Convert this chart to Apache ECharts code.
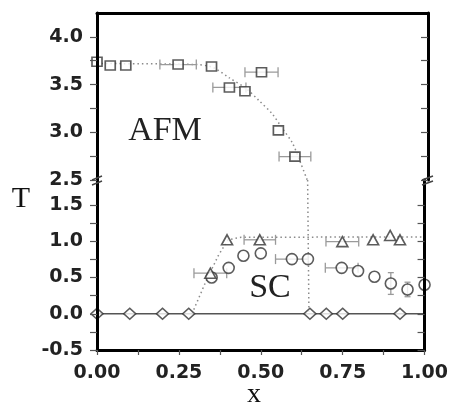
<!DOCTYPE html>
<html><head><meta charset="utf-8">
<script src="https://cdn.jsdelivr.net/npm/echarts@6/dist/echarts.min.js"></script>
<style>html,body{margin:0;padding:0;background:#fff}#c{width:451px;height:410px}</style>
</head><body><div id="c"></div>
<script>
// ---- tick labels ----
const xTickLabels = [0, 0.25, 0.5, 0.75, 1.0];
const xTicks = [0, 0.125, 0.25, 0.375, 0.5, 0.625, 0.75, 0.875, 1.0];
const yTickLabelsUpper = [2.5, 3.0, 3.5, 4.0];
const yTicksUpper = [2.5, 2.75, 3.0, 3.25, 3.5, 3.75, 4.0];
const yTickLabelsLower = [-0.5, 0.0, 0.5, 1.0, 1.5];
const yTicksLower = [-0.5, -0.25, 0.0, 0.25, 0.5, 0.75, 1.0, 1.25, 1.5];
const xRange = [0, 1];
const yRangeUpper = [2.5, 4.25];
const yRangeLower = [-0.5, 1.845];

// ---- data [x, T] ----
const afmSquares = [[0.0,3.74],[0.04,3.70],[0.087,3.70],[0.245,3.71],[0.346,3.69],[0.40,3.47],[0.447,3.43],[0.497,3.63],[0.548,3.02],[0.598,2.745]];
const afmSquaresXErr = [[0.245,3.71,0.055],[0.40,3.47,0.05],[0.497,3.63,0.05],[0.598,2.745,0.048]];
const afmBoundaryUpper = [[0,3.72],[0.3,3.71],[0.35,3.68],[0.40,3.57],[0.45,3.46],[0.49,3.33],[0.53,3.19],[0.56,3.04],[0.59,2.89],[0.615,2.68],[0.635,2.5]];
const afmBoundaryLower = [[0.643,1.845],[0.647,0]];

const scTriangles = [[0.346,0.56],[0.397,1.02],[0.497,1.02],[0.749,0.995],[0.843,1.02],[0.895,1.08],[0.925,1.02]];
const scTrianglesXErr = [[0.346,0.56,0.05],[0.497,1.02,0.048],[0.749,0.995,0.05]];
const scTriangleBoundary = [[0.29,0],[0.33,0.42],[0.37,0.80],[0.40,1.02],[0.44,1.055],[1.0,1.06]];

const scCircles = [[0.35,0.50],[0.402,0.633],[0.447,0.80],[0.50,0.833],[0.595,0.754],[0.644,0.754],[0.747,0.633],[0.797,0.59],[0.847,0.51],[0.897,0.417],[0.948,0.335],[1.0,0.40]];
const scCirclesXErr = [[0.595,0.754,0.05],[0.747,0.633,0.05]];
const scCirclesYErr = [[0.897,0.417,0.15],[0.948,0.335,0.1]];

const zeroX = [0, 0.1, 0.2, 0.28, 0.65, 0.70, 0.75, 0.925];
const zeroT = [0, 0, 0, 0, 0, 0, 0, 0];
const zeroLine = [[0,0],[1,0]];

// ---- styles ----
const SYM = {color:'#fff', borderColor:'#333', borderWidth:1.6};
const DOT = {color:'#8a8a8a', width:1.5, type:[1.5,3]};
const ERR = '#9a9a9a';

function hErr(params, api){
  const x=api.value(0), y=api.value(1), e=api.value(2);
  const p1=api.coord([x-e,y]), p2=api.coord([x+e,y]);
  const c=5, st={stroke:ERR,lineWidth:1.3};
  return {type:'group',children:[
    {type:'line',shape:{x1:p1[0],y1:p1[1],x2:p2[0],y2:p2[1]},style:st},
    {type:'line',shape:{x1:p1[0],y1:p1[1]-c,x2:p1[0],y2:p1[1]+c},style:st},
    {type:'line',shape:{x1:p2[0],y1:p2[1]-c,x2:p2[0],y2:p2[1]+c},style:st}]};
}
function vErr(params, api){
  const x=api.value(0), y=api.value(1), e=api.value(2);
  const p1=api.coord([x,y-e]), p2=api.coord([x,y+e]);
  const c=3, st={stroke:ERR,lineWidth:1.3};
  return {type:'group',children:[
    {type:'line',shape:{x1:p1[0],y1:p1[1],x2:p2[0],y2:p2[1]},style:st},
    {type:'line',shape:{x1:p1[0]-c,y1:p1[1],x2:p1[0]+c,y2:p1[1]},style:st},
    {type:'line',shape:{x1:p2[0]-c,y1:p2[1],x2:p2[0]+c,y2:p2[1]},style:st}]};
}

function yAx(grid, pos, range, labels, ticks, showLabel, inside){
  return {type:'value', gridIndex:grid, position:pos, min:range[0], max:range[1], interval:0.5, z:5,
    axisLine:{show:true,onZero:false,lineStyle:{color:'#000',width:3}},
    axisTick:{show:true,inside:inside,length:7,customValues:ticks,lineStyle:{color:'#555',width:1.2}},
    axisLabel:{show:showLabel,customValues:labels,margin:14,formatter:v=>v.toFixed(1),
      fontFamily:'DejaVu Sans',fontWeight:'bold',fontSize:19,color:'#222'},
    splitLine:{show:false}};
}

const chart = echarts.init(document.getElementById('c'), null, {renderer:'canvas'});
const option = {
  backgroundColor:'#fff',
  animation:false,
  grid:[
    {left:97,right:23,top:13,height:167},
    {left:97,right:23,top:180,height:170}
  ],
  xAxis:[
    {type:'value',gridIndex:0,position:'top',min:xRange[0],max:xRange[1],z:5,
     axisLine:{show:true,onZero:false,lineStyle:{color:'#000',width:3}},
     axisTick:{show:false},axisLabel:{show:false},splitLine:{show:false}},
    {type:'value',gridIndex:1,position:'bottom',min:xRange[0],max:xRange[1],interval:0.25,z:5,
     axisLine:{show:true,onZero:false,lineStyle:{color:'#000',width:3}},
     axisTick:{show:true,length:5,customValues:xTicks,lineStyle:{color:'#555',width:1.2}},
     axisLabel:{show:true,customValues:xTickLabels,margin:14,formatter:v=>v.toFixed(2),
       fontFamily:'DejaVu Sans',fontWeight:'bold',fontSize:19,color:'#222'},
     splitLine:{show:false}}
  ],
  yAxis:[
    yAx(0,'left',yRangeUpper,yTickLabelsUpper,yTicksUpper,true,false),
    yAx(0,'right',yRangeUpper,[],yTicksUpper,false,true),
    yAx(1,'left',yRangeLower,yTickLabelsLower,yTicksLower,true,false),
    yAx(1,'right',yRangeLower,[],yTicksLower,false,true)
  ],
  series:[
    {type:'line',xAxisIndex:0,yAxisIndex:0,data:afmBoundaryUpper,smooth:0.3,symbol:'none',lineStyle:DOT,z:1},
    {type:'line',xAxisIndex:1,yAxisIndex:2,data:afmBoundaryLower,symbol:'none',lineStyle:DOT,z:1},
    {type:'line',xAxisIndex:1,yAxisIndex:2,data:scTriangleBoundary,symbol:'none',lineStyle:DOT,z:1},
    {type:'line',xAxisIndex:1,yAxisIndex:2,data:zeroLine,symbol:'none',lineStyle:{color:'#555',width:1.6},z:1},
    {type:'custom',xAxisIndex:0,yAxisIndex:0,data:afmSquaresXErr,renderItem:hErr,encode:{x:0,y:1},z:2},
    {type:'custom',xAxisIndex:1,yAxisIndex:2,data:scTrianglesXErr,renderItem:hErr,encode:{x:0,y:1},z:2},
    {type:'custom',xAxisIndex:1,yAxisIndex:2,data:scCirclesXErr,renderItem:hErr,encode:{x:0,y:1},z:2},
    {type:'custom',xAxisIndex:1,yAxisIndex:2,data:scCirclesYErr,renderItem:vErr,encode:{x:0,y:1},z:2},
    {type:'scatter',xAxisIndex:0,yAxisIndex:0,data:afmSquares,symbol:'rect',symbolSize:[10,9],itemStyle:SYM,z:3},
    {type:'scatter',xAxisIndex:1,yAxisIndex:2,data:scCircles,symbol:'circle',symbolSize:11,itemStyle:SYM,z:3},
    {type:'scatter',xAxisIndex:1,yAxisIndex:2,data:scTriangles,symbol:'triangle',symbolSize:[11,10],itemStyle:SYM,z:4},
    {type:'scatter',xAxisIndex:1,yAxisIndex:2,data:zeroX.map((x,i)=>[x,zeroT[i]]),symbol:'diamond',symbolSize:[12,11],itemStyle:SYM,z:3}
  ],
  graphic:[
    {type:'text',left:null,x:165,y:131,style:{text:'AFM',font:'34px "Liberation Serif"',fill:'#222',textAlign:'center',textVerticalAlign:'middle'}},
    {type:'text',x:270,y:288,style:{text:'SC',font:'34px "Liberation Serif"',fill:'#222',textAlign:'center',textVerticalAlign:'middle'}},
    {type:'text',x:21,y:199,style:{text:'T',font:'30px "Liberation Serif"',fill:'#111',textAlign:'center',textVerticalAlign:'middle'}},
    {type:'text',x:254,y:395,style:{text:'x',font:'28px "Liberation Serif"',fill:'#111',textAlign:'center',textVerticalAlign:'middle'}},
    {type:'line',shape:{x1:92,y1:180,x2:102,y2:176},style:{stroke:'#444',lineWidth:1.5},z:10},
    {type:'line',shape:{x1:92,y1:185,x2:102,y2:181},style:{stroke:'#444',lineWidth:1.5},z:10},
    {type:'line',shape:{x1:422,y1:180,x2:433,y2:176},style:{stroke:'#444',lineWidth:1.5},z:10},
    {type:'line',shape:{x1:422,y1:185,x2:433,y2:181},style:{stroke:'#444',lineWidth:1.5},z:10}
  ]
};
chart.setOption(option);
</script></body></html>
